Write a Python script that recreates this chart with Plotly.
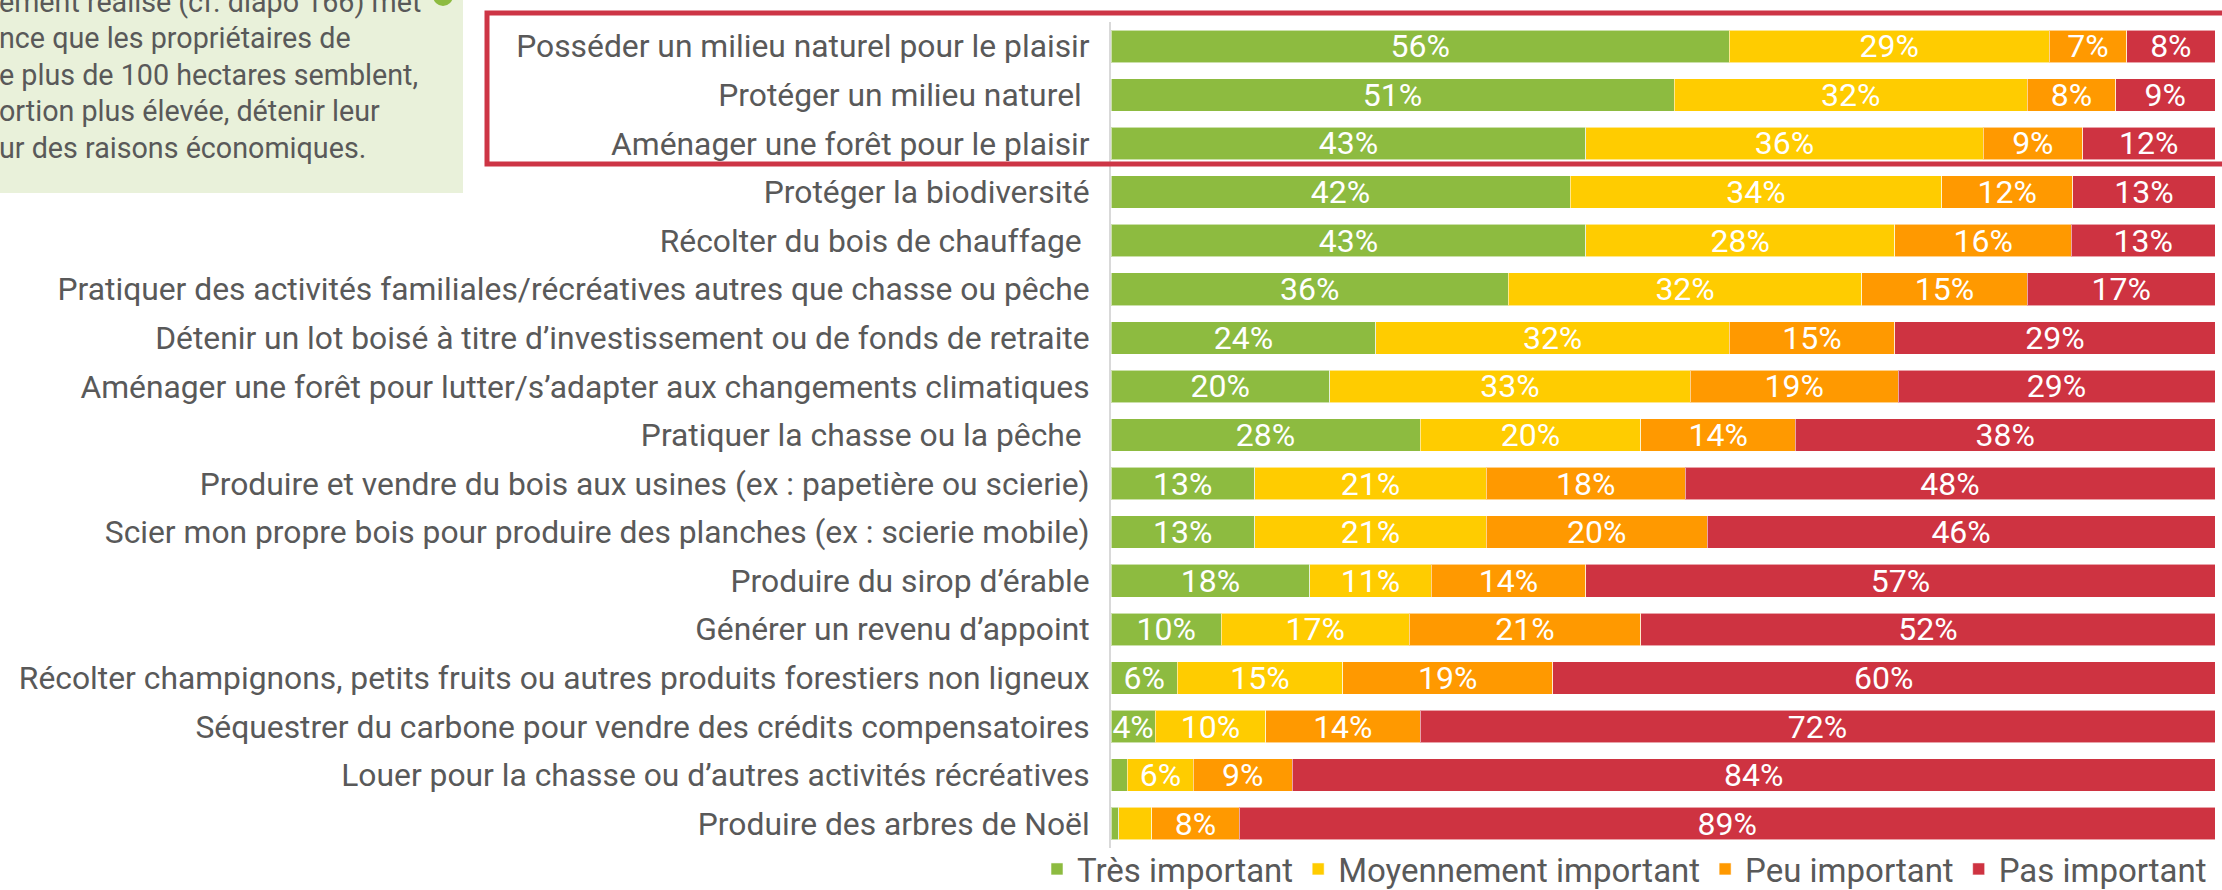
import plotly.graph_objects as go

categories = [
    "Posséder un milieu naturel pour le plaisir",
    "Protéger un milieu naturel ",
    "Aménager une forêt pour le plaisir",
    "Protéger la biodiversité",
    "Récolter du bois de chauffage ",
    "Pratiquer des activités familiales/récréatives autres que chasse ou pêche",
    "Détenir un lot boisé à titre d’investissement ou de fonds de retraite",
    "Aménager une forêt pour lutter/s’adapter aux changements climatiques",
    "Pratiquer la chasse ou la pêche ",
    "Produire et vendre du bois aux usines (ex : papetière ou scierie)",
    "Scier mon propre bois pour produire des planches (ex : scierie mobile)",
    "Produire du sirop d’érable",
    "Générer un revenu d’appoint",
    "Récolter champignons, petits fruits ou autres produits forestiers non ligneux",
    "Séquestrer du carbone pour vendre des crédits compensatoires",
    "Louer pour la chasse ou d’autres activités récréatives",
    "Produire des arbres de Noël",
]

series_names = ["Très important", "Moyennement important", "Peu important", "Pas important"]
tres_important = [56, 51, 43, 42, 43, 36, 24, 20, 28, 13, 13, 18, 10, 6, 4, 1.5, 0.7]
moyennement_important = [29, 32, 36, 34, 28, 32, 32, 33, 20, 21, 21, 11, 17, 15, 10, 6, 3]
peu_important = [7, 8, 9, 12, 16, 15, 15, 19, 14, 18, 20, 14, 21, 19, 14, 9, 8]
pas_important = [8, 9, 12, 13, 13, 17, 29, 29, 38, 48, 46, 57, 52, 60, 72, 84, 89]
# very small segments are unlabelled in the source
hidden_label_min = 3.5

colors = ["#8DBB40", "#FFCC00", "#FF9900", "#CE3341"]
FONT = "Roboto, Lato, sans-serif"
GREY = "#595959"

W_PX, H_PX = 2222, 890
L, R, T, B = 1111, 7, 22, 42
PW = W_PX - L - R
PH = H_PX - T - B


def px2x(px):
    return (px - L) / PW


def py2y(py):
    return (H_PX - B - py) / PH


fig = go.Figure()
for name, vals, col in zip(series_names,
                           [tres_important, moyennement_important, peu_important, pas_important],
                           colors):
    labels = [f"{round(v)}%" if v >= hidden_label_min else "" for v in vals]
    fig.add_trace(go.Bar(
        name=name, y=categories, x=vals, orientation="h",
        marker=dict(color=col, line=dict(color="rgba(255,255,255,0.55)", width=1)),
        text=labels, textposition="inside", insidetextanchor="middle",
        constraintext="none", textangle=0,
        textfont=dict(color="white", size=32, family=FONT),
        hoverinfo="skip",
    ))

shapes = [
    # note box (top-left)
    dict(type="rect", xref="paper", yref="paper",
         x0=px2x(-5), x1=px2x(463), y0=py2y(-5), y1=py2y(193),
         fillcolor="#E9F1DA", line=dict(width=0), layer="below"),
    dict(type="circle", xref="paper", yref="paper",
         x0=px2x(433), x1=px2x(453), y0=py2y(-14), y1=py2y(6),
         fillcolor="#8DBB40", line=dict(width=0)),
    # highlight box around top three rows
    dict(type="rect", xref="paper", yref="paper",
         x0=px2x(487), x1=px2x(2240), y0=py2y(13), y1=py2y(164),
         line=dict(color="#CD3545", width=5), fillcolor="rgba(0,0,0,0)"),
]

note_lines = [
    "ement réalisé (cf. diapo 166) met",
    "nce que les propriétaires de",
    "e plus de 100 hectares semblent,",
    "ortion plus élevée, détenir leur",
    "ur des raisons économiques.",
]
note_y = [2, 38, 75, 111, 148]
annotations = [
    dict(text=t, xref="paper", yref="paper", x=px2x(-3), y=py2y(yy),
         xanchor="left", yanchor="middle", showarrow=False,
         font=dict(size=28.7, color=GREY, family=FONT))
    for t, yy in zip(note_lines, note_y)
]

fig.update_layout(
    width=W_PX, height=H_PX,
    margin=dict(l=L, r=R, t=T, b=B, autoexpand=False),
    barmode="stack", barnorm="percent", bargap=0.33,
    plot_bgcolor="white", paper_bgcolor="white",
    font=dict(family=FONT, color=GREY, size=31.5),
    xaxis=dict(range=[0, 100], visible=False, fixedrange=True),
    yaxis=dict(autorange="reversed", showline=True, linecolor="#D9D9D9", linewidth=2,
               ticks="", showgrid=False, tickfont=dict(size=31.8, color=GREY, family=FONT),
               ticklabelstandoff=13, automargin=False),
    legend=dict(orientation="h", xref="paper", yref="paper",
                x=px2x(1037), xanchor="left", y=py2y(869), yanchor="middle",
                font=dict(size=33, color=GREY, family=FONT), traceorder="normal",
                itemwidth=30, bgcolor="rgba(0,0,0,0)"),
    shapes=shapes, annotations=annotations,
    showlegend=True,
)

fig.write_html("out.html", config={"displayModeBar": False},
               post_script="document.body.style.margin='0';document.body.style.overflow='hidden';")
